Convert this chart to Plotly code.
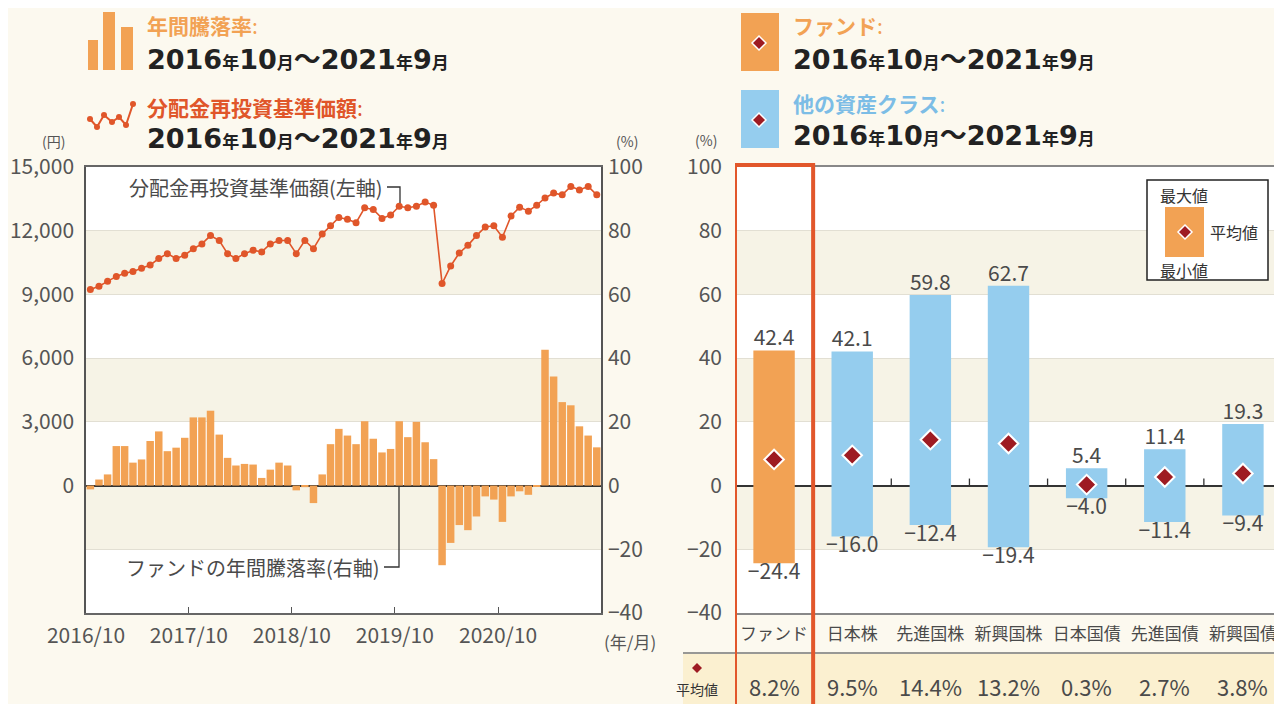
import plotly.graph_objects as go
import pandas as pd

W, H = 1282, 704
OFF = 8  # page body margin of the browser
FONT = "Noto Sans CJK JP"
DATE_FONT = "DejaVu Sans, Noto Sans CJK JP"

# ---------------- data ----------------
months = pd.date_range("2016-10-01", periods=60, freq="MS")

annual_return = [
    -1.2, 1.9, 3.5, 12.4, 12.4, 7.2, 8.2, 14.0, 17.0, 10.8,
    11.9, 15.0, 21.4, 21.4, 23.5, 16.0, 8.7, 6.3, 6.8, 6.6,
    2.4, 5.0, 7.2, 6.3, -1.5, -0.5, -5.5, 3.5, 13.0, 17.8,
    15.7, 13.0, 20.2, 14.7, 10.4, 11.5, 20.2, 15.2, 20.0, 13.6,
    8.3, -25.0, -18.0, -12.4, -14.0, -9.7, -3.4, -4.4, -11.4, -3.4,
    -1.8, -2.9, -0.3, 42.6, 34.2, 26.2, 25.2, 18.6, 15.7, 12.0,
]

nav = [
    9230, 9385, 9615, 9850, 10000, 10080, 10230, 10380, 10690, 10920,
    10690, 10850, 11150, 11380, 11770, 11540, 10920, 10690, 10920, 11080,
    11000, 11380, 11540, 11540, 10920, 11540, 11150, 11850, 12230, 12620,
    12540, 12380, 13080, 13000, 12580, 12740, 13150, 13080, 13150, 13350,
    13200, 9510, 10340, 10950, 11310, 11770, 12180, 12230, 11690, 12690,
    13110, 12920, 13200, 13540, 13770, 13690, 14080, 13920, 14080, 13690,
]

x_tick_dates = ["2016-10-01", "2017-10-01", "2018-10-01", "2019-10-01", "2020-10-01"]
x_tick_text = ["2016/10", "2017/10", "2018/10", "2019/10", "2020/10"]

asset_classes = ["ファンド", "日本株", "先進国株", "新興国株", "日本国債", "先進国債", "新興国債"]
asset_max = [42.4, 42.1, 59.8, 62.7, 5.4, 11.4, 19.3]
asset_min = [-24.4, -16.0, -12.4, -19.4, -4.0, -11.4, -9.4]
asset_mean = [8.2, 9.5, 14.4, 13.2, 0.3, 2.7, 3.8]

# ---------------- colours ----------------
ORANGE = "#F2A254"
LINE_RED = "#E0562A"
BLUE = "#95CDEE"
DIAMOND = "#9E1B22"
PAPER = "#FCF9EF"
BAND = "#F6F3E6"
GRID = "#E2DFD3"
TXT = "#4A4A4A"
TICK = "#555555"


def px(x):
    return (x - OFF) / W


def py(y):
    return 1 - (y - OFF) / H


fig = go.Figure()

# ---------------- left chart ----------------
fig.add_trace(go.Bar(
    x=months, y=annual_return, xperiod="M1", xperiodalignment="middle",
    marker=dict(color=ORANGE, line=dict(width=0)),
    xaxis="x", yaxis="y", showlegend=False, hoverinfo="x+y"))

fig.add_trace(go.Scatter(
    x=months, y=nav, xperiod="M1", xperiodalignment="middle",
    mode="lines+markers",
    line=dict(color=LINE_RED, width=1.6),
    marker=dict(color=LINE_RED, size=7),
    xaxis="x", yaxis="y2", showlegend=False))

# ---------------- right chart ----------------
ranges = [mx - mn for mx, mn in zip(asset_max, asset_min)]
fig.add_trace(go.Bar(
    x=asset_classes, y=ranges, base=asset_min, width=0.53,
    marker=dict(color=[ORANGE] + [BLUE] * (len(asset_classes) - 1), line=dict(width=0)),
    xaxis="x3", yaxis="y3", showlegend=False))

fig.add_trace(go.Scatter(
    x=asset_classes, y=asset_max, mode="text",
    text=[f"{v:.1f}" for v in asset_max], textposition="top center",
    textfont=dict(family=FONT, size=21, color=TXT),
    xaxis="x3", yaxis="y3", showlegend=False, hoverinfo="skip"))

fig.add_trace(go.Scatter(
    x=asset_classes, y=asset_min, mode="text",
    text=[f"−{abs(v):.1f}" for v in asset_min], textposition="bottom center",
    textfont=dict(family=FONT, size=21, color=TXT),
    xaxis="x3", yaxis="y3", showlegend=False, hoverinfo="skip"))

fig.add_trace(go.Scatter(
    x=asset_classes, y=asset_mean, mode="markers",
    marker=dict(symbol="diamond", size=15, color=DIAMOND, line=dict(color="white", width=2)),
    xaxis="x3", yaxis="y3", showlegend=False))

left_dom_x = [px(86), px(601)]
dom_y = [py(613), py(167)]
right_dom_x = [px(735), px(1282)]

pct_ticks = [-40, -20, 0, 20, 40, 60, 80, 100]
pct_text = ["−40", "−20", "0", "20", "40", "60", "80", "100"]

fig.update_layout(
    width=W, height=H, autosize=False,
    margin=dict(l=0, r=0, t=0, b=0, pad=0, autoexpand=False),
    paper_bgcolor=PAPER, plot_bgcolor="white",
    bargap=0.1,
    font=dict(family=FONT, color=TXT),
    xaxis=dict(domain=left_dom_x, type="date", automargin=False,
               range=["2016-10-01", "2021-10-01"],
               tickvals=x_tick_dates, ticktext=x_tick_text,
               ticks="inside", ticklen=6, tickcolor="#555",
               showgrid=False, showline=True, linecolor="#666", linewidth=1.5,
               mirror=True, tickfont=dict(size=21, color=TICK), ticklabelstandoff=3),
    yaxis=dict(domain=dom_y, anchor="x", side="right", range=[-40, 100], automargin=False,
               tickvals=pct_ticks, ticktext=pct_text,
               showgrid=True, gridcolor=GRID, gridwidth=1,
               zeroline=True, zerolinecolor="#333", zerolinewidth=1.5,
               showline=True, linecolor="#555", linewidth=1.5,
               tickfont=dict(size=21, color=TICK), ticklabelstandoff=1),
    yaxis2=dict(overlaying="y", anchor="x", side="left", range=[-6000, 15000], automargin=False,
                tickvals=[0, 3000, 6000, 9000, 12000, 15000], tickformat=",",
                showgrid=False, zeroline=False,
                showline=True, linecolor="#555", linewidth=1.5,
                tickfont=dict(size=21, color=TICK), ticklabelstandoff=6),
    xaxis3=dict(domain=right_dom_x, anchor="y3", type="category", automargin=False,
                range=[-0.5, 6.5], showgrid=False,
                showline=True, linecolor="#888", linewidth=1.5, mirror=True,
                ticks="", tickfont=dict(size=17, color=TXT), ticklabelstandoff=5),
    yaxis3=dict(domain=dom_y, anchor="x3", range=[-40, 100], automargin=False,
                tickvals=pct_ticks, ticktext=pct_text,
                showgrid=True, gridcolor=GRID, gridwidth=1,
                zeroline=True, zerolinecolor="#333", zerolinewidth=1.5,
                showline=False,
                tickfont=dict(size=21, color=TICK), ticklabelstandoff=12),
)

shapes = []
# background bands
for (a, b) in [(60, 80), (20, 40), (-20, 0)]:
    for xr, yr in [("x domain", "y"), ("x3 domain", "y3")]:
        shapes.append(dict(type="rect", xref=xr, yref=yr, x0=0, x1=1, y0=a, y1=b,
                           fillcolor=BAND, line=dict(width=0), layer="below"))

# category boundary ticks on zero line (right chart)
for k in range(1, len(asset_classes)):
    shapes.append(dict(type="line", xref="x3", yref="y3", x0=k - 0.5, x1=k - 0.5,
                       y0=0, y1=2.2, line=dict(color="#333", width=1.3)))

# leader lines (left chart)
shapes.append(dict(type="path", xref="paper", yref="paper",
                   path=f"M {px(387)},{py(187)} L {px(400)},{py(187)} L {px(400)},{py(203)}",
                   line=dict(color="#333", width=1.3)))
shapes.append(dict(type="path", xref="paper", yref="paper",
                   path=f"M {px(384)},{py(567)} L {px(399)},{py(567)} L {px(399)},{py(486)}",
                   line=dict(color="#333", width=1.3)))

# table row background + separator
shapes.append(dict(type="rect", xref="paper", yref="paper", x0=px(683), x1=px(1290),
                   y0=py(712), y1=py(654), fillcolor="#FBF0D0", line=dict(width=0), layer="below"))
shapes.append(dict(type="line", xref="paper", yref="paper", x0=px(683), x1=px(1290),
                   y0=py(653), y1=py(653), line=dict(color="#777", width=1.5)))

# red highlight box around fund column
shapes.append(dict(type="rect", xref="x3", yref="paper", x0=-0.5, x1=0.5,
                   y0=py(720), y1=py(165), line=dict(color="#E2572B", width=4),
                   fillcolor="rgba(0,0,0,0)"))


def diamond_path(cx, cy, r):
    return (f"M {px(cx)},{py(cy - r)} L {px(cx + r)},{py(cy)} "
            f"L {px(cx)},{py(cy + r)} L {px(cx - r)},{py(cy)} Z")


# in-chart legend box (right chart)
shapes.append(dict(type="rect", xref="paper", yref="paper", x0=px(1147), x1=px(1268),
                   y0=py(280), y1=py(180), fillcolor="white", line=dict(color="#222", width=1.5)))
shapes.append(dict(type="rect", xref="paper", yref="paper", x0=px(1165), x1=px(1204),
                   y0=py(257), y1=py(207), fillcolor=ORANGE, line=dict(width=0)))
shapes.append(dict(type="path", xref="paper", yref="paper", path=diamond_path(1185, 232, 7),
                   fillcolor=DIAMOND, line=dict(color="white", width=1.5)))

# header icons: bar icon
for (x0, x1, y0) in [(88, 98, 40), (103, 115, 12), (121, 133, 27)]:
    shapes.append(dict(type="rect", xref="paper", yref="paper", x0=px(x0), x1=px(x1),
                       y0=py(70), y1=py(y0), fillcolor=ORANGE, line=dict(width=0)))
# header icon: zigzag line with dots
zz = [(90, 119), (97, 127), (104, 115), (112, 122), (119, 117), (126, 125), (133, 104)]
shapes.append(dict(type="path", xref="paper", yref="paper",
                   path="M " + " L ".join(f"{px(a)},{py(b)}" for a, b in zz),
                   line=dict(color=LINE_RED, width=2)))
for a, b in zz:
    shapes.append(dict(type="circle", xref="paper", yref="paper",
                       x0=px(a - 3), x1=px(a + 3), y0=py(b + 3), y1=py(b - 3),
                       fillcolor=LINE_RED, line=dict(width=0)))
# header icons: right side squares with diamonds
shapes.append(dict(type="rect", xref="paper", yref="paper", x0=px(741), x1=px(779),
                   y0=py(71), y1=py(13), fillcolor=ORANGE, line=dict(width=0)))
shapes.append(dict(type="path", xref="paper", yref="paper", path=diamond_path(759, 43, 7),
                   fillcolor=DIAMOND, line=dict(color="white", width=1.5)))
shapes.append(dict(type="rect", xref="paper", yref="paper", x0=px(741), x1=px(779),
                   y0=py(148), y1=py(90), fillcolor=BLUE, line=dict(width=0)))
shapes.append(dict(type="path", xref="paper", yref="paper", path=diamond_path(759, 120, 7),
                   fillcolor=DIAMOND, line=dict(color="white", width=1.5)))
# table-row diamond
shapes.append(dict(type="path", xref="paper", yref="paper", path=diamond_path(697, 668, 5),
                   fillcolor=DIAMOND, line=dict(width=0)))

fig.update_layout(shapes=shapes)

annotations = []


def ann(x, y, text, size=16, color=TXT, xanchor="center", xref="paper", yref="paper",
        family=FONT, **kw):
    annotations.append(dict(x=x, y=y, xref=xref, yref=yref, text=text, showarrow=False,
                            xanchor=xanchor, yanchor="middle",
                            font=dict(family=family, size=size, color=color), **kw))


SMALL = "<span style='font-size:17px'>"
date_txt = (f"<b>2016{SMALL}年</span>10{SMALL}月</span>～2021{SMALL}年</span>9{SMALL}月</span></b>")

# left header
ann(px(145), py(25), "<b>年間騰落率</b>:", size=21, color=ORANGE, xanchor="left")
ann(px(145), py(59), date_txt, size=27, color="#222", xanchor="left", family=DATE_FONT)
ann(px(145), py(107), "<b>分配金再投資基準価額</b>:", size=21, color=LINE_RED, xanchor="left")
ann(px(145), py(139), date_txt, size=27, color="#222", xanchor="left", family=DATE_FONT)
# right header
ann(px(791), py(25), "<b>ファンド</b>:", size=21, color=ORANGE, xanchor="left")
ann(px(791), py(59), date_txt, size=27, color="#222", xanchor="left", family=DATE_FONT)
ann(px(791), py(103), "<b>他の資産クラス</b>:", size=21, color="#7CBDE6", xanchor="left")
ann(px(791), py(135), date_txt, size=27, color="#222", xanchor="left", family=DATE_FONT)

# axis unit labels
ann(px(53), py(141), "(円)", size=14, color=TICK)
ann(px(627), py(141), "(%)", size=14, color=TICK)
ann(px(706), py(140), "(%)", size=14, color=TICK)
ann(px(630), py(641), "(年/月)", size=17, color=TICK)

# left chart annotations
ann(px(385), py(187), "分配金再投資基準価額(左軸)", size=20, color=TXT, xanchor="right")
ann(px(382), py(567), "ファンドの年間騰落率(右軸)", size=20, color=TXT, xanchor="right")

# right chart in-legend labels
ann(px(1184), py(195), "最大値", size=16, color="#333")
ann(px(1184), py(270), "最小値", size=16, color="#333")
ann(px(1234), py(232), "平均値", size=16, color="#333")

# mean row
ann(px(697), py(689), "平均値", size=14, color="#333")
for cat, m in zip(asset_classes, asset_mean):
    ann(cat, py(686), f"{m:.1f}%", size=22, color=TXT, xref="x3")

fig.update_layout(annotations=annotations)

fig.write_html("out.html")
